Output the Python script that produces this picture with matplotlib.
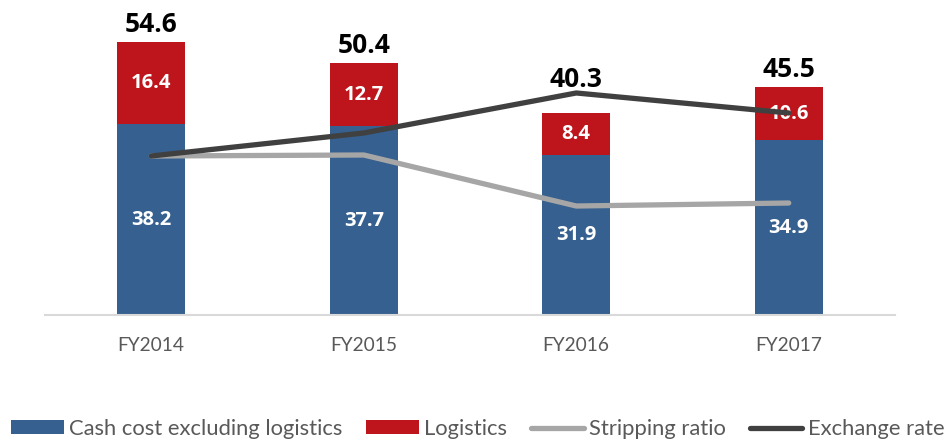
import matplotlib
matplotlib.use("Agg")
import matplotlib.pyplot as plt
from matplotlib.lines import Line2D
from matplotlib.patches import Patch
import numpy as np

plt.rcParams['font.family'] = ['Lato', 'DejaVu Sans']
bold_font = ['Open Sans', 'DejaVu Sans']

years = ["FY2014", "FY2015", "FY2016", "FY2017"]
cash_cost = [38.2, 37.7, 31.9, 34.9]
logistics = [16.4, 12.7, 8.4, 10.6]
totals = [54.6, 50.4, 40.3, 45.5]
# indexed trend lines, plotted on a hidden secondary scale
stripping_ratio = [31.8, 32.0, 21.8, 22.4]
exchange_rate = [31.8, 36.4, 44.4, 40.4]

blue = "#35608F"
red = "#BE141B"
light_gray = "#A6A6A6"
dark_gray = "#404040"

fig = plt.figure(figsize=(9.45, 4.4), dpi=100)
ax = fig.add_axes([0.0476, 0.284, 0.8995, 0.682])
x = np.arange(len(years))
w = 0.32

ax.bar(x, cash_cost, w, color=blue, zorder=2)
ax.bar(x, logistics, w, bottom=cash_cost, color=red, zorder=2)

# FY2016 total sits above the exchange rate line
total_offsets = [3, 3, 15, 3]
for i in range(len(years)):
    ax.text(x[i], cash_cost[i] / 2, f"{cash_cost[i]:.1f}", ha="center", va="center",
            color="white", fontsize=14.5, fontweight="bold", family=bold_font, zorder=5)
    ax.text(x[i], cash_cost[i] + logistics[i] / 2, f"{logistics[i]:.1f}", ha="center",
            va="center", color="white", fontsize=14.5, fontweight="bold",
            family=bold_font, zorder=5)
    ax.annotate(f"{totals[i]:.1f}", (x[i], cash_cost[i] + logistics[i]),
                xytext=(0, total_offsets[i]), textcoords="offset points", ha="center",
                va="bottom", fontsize=19, fontweight="bold", family=bold_font,
                color="black", zorder=5)

ax.set_xlim(-0.5, 3.5)
ax.set_ylim(0, 60)
ax.set_yticks([])
ax.set_xticks(x)
ax.set_xticklabels(years, fontsize=13.8, color="#595959")
ax.tick_params(axis="x", length=0, pad=16)
for s in ["top", "right", "left"]:
    ax.spines[s].set_visible(False)
ax.spines["bottom"].set_color("#D9D9D9")
ax.spines["bottom"].set_linewidth(1.5)

ax2 = ax.twinx()
ax2.set_ylim(0, 60)
ax2.axis("off")
ax2.plot(x, stripping_ratio, color=light_gray, lw=3.8, solid_capstyle="round", zorder=3)
ax2.plot(x, exchange_rate, color=dark_gray, lw=3.8, solid_capstyle="round", zorder=3)

handles = [
    Patch(facecolor=blue),
    Patch(facecolor=red),
    Line2D([], [], color=light_gray, lw=3.8, solid_capstyle="round"),
    Line2D([], [], color=dark_gray, lw=3.8, solid_capstyle="round"),
]
labels = ["Cash cost excluding logistics", "Logistics", "Stripping ratio", "Exchange rate"]
fig.legend(handles, labels, loc="center left", bbox_to_anchor=(11 / 945, 1 - 429 / 440),
           ncol=4, frameon=False, fontsize=15.8, handlelength=2.4, handleheight=0.6,
           handletextpad=0.23, columnspacing=1.1, borderpad=0, borderaxespad=0,
           labelcolor="#595959")

fig.savefig("out.png", dpi=100)
